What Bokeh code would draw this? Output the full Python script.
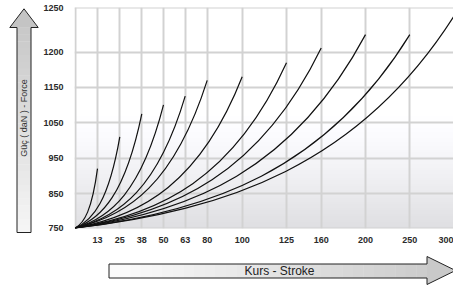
import numpy as np
from bokeh.plotting import figure
from bokeh.models import FixedTicker, Range1d
from bokeh.layouts import row, column
from bokeh.core.properties import value
from bokeh.embed import file_html
from bokeh.resources import INLINE

# ---- data ----
strokes = [13, 25, 38, 50, 63, 80, 100, 125, 160, 200, 250, 300]
end_forces = [920, 1010, 1075, 1100, 1125, 1160, 1165, 1185, 1205, 1220, 1220, 1240]
force_ticks = [750, 850, 950, 1050, 1150, 1200, 1250]
start_force = 750
start_stroke = 0
y_title = "Güç ( daN ) - Force"
x_title = "Kurs - Stroke"

# ---- non-linear axis layout of the original chart (scale breakpoints) ----
stroke_breaks = [0] + strokes
stroke_axis = [0, 22.3, 44.6, 66.6, 88.3, 110, 132, 167, 211.3, 246, 290.3, 334.6, 378.3]
force_axis = [0, 34.5, 70, 105.5, 140.8, 175.8, 220.2]


def sx(v):
    return np.interp(v, stroke_breaks, stroke_axis)


def fy(v):
    return np.interp(v, force_ticks, force_axis)


LEFT_W, TOP_H, TOTAL_W, TOTAL_H = 40, 250, 453, 289
FRAME_L = 74

# ================= main chart =================
p = figure(width=TOTAL_W - LEFT_W, height=TOP_H, output_backend="svg", toolbar_location=None,
           title=None,
           x_range=Range1d(-0.7, 378.3), y_range=Range1d(-0.5, 220.7),
           min_border_left=FRAME_L - LEFT_W, min_border_right=0, min_border_top=7,
           min_border_bottom=TOP_H - 228)
p.outline_line_color = None
p.background_fill_color = "white"
p.border_fill_color = "white"

# gradient background of the plot area
nb = 56
edges = np.linspace(0, 112, nb + 1)
cols = []
for i in range(nb):
    m = 0.5 * (edges[i] + edges[i + 1])
    f = 1 - m / 112.0
    v = 255 - 32 * f ** 1.25
    cols.append("#%02x%02x%02x" % (int(v), int(v), int(min(255, v + 3))))
bg = p.quad(left=stroke_axis[0], right=stroke_axis[-1] + 2, bottom=edges[:-1], top=edges[1:],
            fill_color=cols, line_color=None)
bg.level = "image"

# grid
p.xgrid.ticker = FixedTicker(ticks=[float(v) for v in sx(stroke_breaks)])
p.ygrid.ticker = FixedTicker(ticks=[float(v) for v in fy(force_ticks)])
for g in (p.xgrid, p.ygrid):
    g.grid_line_color = "#d2d2d2"
    g.grid_line_width = 2

# axes
xt = [float(v) for v in sx(strokes)]
p.xaxis.ticker = FixedTicker(ticks=xt)
p.xaxis.major_label_overrides = {t: str(s) for t, s in zip(xt, strokes)}
yt = [float(v) for v in fy(force_ticks)]
p.yaxis.ticker = FixedTicker(ticks=yt)
p.yaxis.major_label_overrides = {t: str(s) for t, s in zip(yt, force_ticks)}
for ax in (p.xaxis, p.yaxis):
    ax.axis_line_color = None
    ax.major_tick_line_color = None
    ax.minor_tick_line_color = None
    ax.major_tick_out = 0
    ax.major_tick_in = 0
    ax.minor_tick_out = 0
    ax.major_label_text_font = "Liberation Sans"
    ax.major_label_text_font_style = "bold"
    ax.major_label_text_font_size = "9px"
    ax.major_label_text_color = "#2b2b2b"
p.yaxis.major_label_standoff = 11
p.xaxis.major_label_standoff = 8

# curves (one smooth curve per stroke, from the common start)
X = sx(strokes)
Y = fy(end_forces)
x0 = np.full(len(X), float(sx(start_stroke)))
y0 = np.full(len(X), float(fy(start_force)))
p.bezier(x0=x0, y0=y0, x1=X, y1=Y,
         cx0=x0 + 0.40 * (X - x0), cy0=y0 + 0.0834 * (Y - y0),
         cx1=x0 + 0.75 * (X - x0), cy1=y0 + 0.298 * (Y - y0),
         line_color="#111111", line_width=1.2)


def hexg(v):
    v = int(round(v))
    return "#%02x%02x%02x" % (v, v, v)


def deco_fig(w, h, x0_, y0_, border_left=0):
    f = figure(width=w, height=h, output_backend="svg", toolbar_location=None, title=None,
               x_range=Range1d(x0_ + border_left, x0_ + w), y_range=Range1d(y0_ + h, y0_),
               x_axis_type=None, y_axis_type=None,
               min_border=0, min_border_left=border_left, min_border_right=0,
               min_border_top=0, min_border_bottom=0)
    f.outline_line_color = None
    f.grid.visible = False
    f.background_fill_color = "white"
    f.border_fill_color = "white"
    return f


n = 30
# ================= left arrow (force), full-height column =================
la = deco_fig(LEFT_W, TOTAL_H, 0, 0)
bl, br, btop, bbot = 16.5, 30.5, 27.0, 232.0
hl, hr, tipx, tipy = 9.3, 37.7, 23.5, 8.3
ys_ = np.linspace(btop, bbot, n + 1)
la.quad(left=bl, right=br, top=ys_[:-1], bottom=ys_[1:] + 0.4,
        fill_color=[hexg(200 + 46 * (i + 0.5) / n) for i in range(n)], line_color=None)
la.patch([hl, tipx, hr], [btop + 0.3, tipy, btop + 0.3], fill_color="#c4c4c4", line_color=None)
la.line([bl, bl, hl, tipx, hr, br, br, bl], [bbot, btop, btop, tipy, btop, btop, bbot, bbot],
        line_color="#222222", line_width=1.0)
la.text(x=[23.6], y=[117.5], text=[y_title], angle=np.pi / 2, text_align="center",
        text_baseline="middle", text_font=value("Liberation Sans"), text_font_size="9px",
        text_color="#333333")

# ================= bottom arrow (stroke) =================
ba = deco_fig(TOTAL_W - LEFT_W, TOTAL_H - TOP_H, LEFT_W, TOP_H, border_left=FRAME_L - LEFT_W)
l2, r2, t2, b2 = 108.5, 426.5, 263.5, 277.5
ht, hb, tx2, ty2 = 256.0, 284.0, 455.0, 270.0
xs_ = np.linspace(l2, r2, n + 1)
ba.quad(left=xs_[:-1], right=xs_[1:] + 0.4, top=t2, bottom=b2,
        fill_color=[hexg(252 - 48 * (i + 0.5) / n) for i in range(n)], line_color=None)
ba.patch([r2, tx2, r2], [ht, ty2, hb], fill_color="#c9c9c9", line_color=None)
ba.line([l2, r2, r2, tx2, r2, r2, l2, l2], [t2, t2, ht, ty2, hb, b2, b2, t2],
        line_color="#222222", line_width=1.0)
ba.text(x=[279.0], y=[270.5], text=[x_title], text_align="center", text_baseline="middle",
        text_font=value("Liberation Sans"), text_font_size="12px", text_color="#222222")

layout = row(la, column(p, ba, spacing=0), spacing=0)
open("out.html", "w").write(file_html(layout, INLINE))
